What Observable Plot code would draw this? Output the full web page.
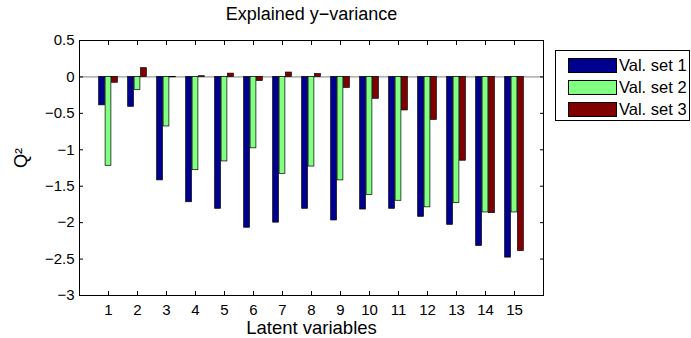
<!DOCTYPE html>
<html><head><meta charset="utf-8">
<script src="https://cdn.jsdelivr.net/npm/d3@7"></script>
<script src="https://cdn.jsdelivr.net/npm/@observablehq/plot@0.6"></script>
<style>
body{margin:0;background:#fff;font-family:"Liberation Sans",Arial,Helvetica,sans-serif;}
#wrap{position:relative;width:691px;height:338px;}
#legend{position:absolute;left:555px;top:50px;width:135px;height:71px;border:1px solid #000;box-sizing:border-box;background:#fff;}
.row{position:absolute;left:12px;height:16px;display:flex;align-items:center;font-size:16.5px;color:#000;white-space:nowrap;}
.sw{width:49px;height:15px;border:1px solid #000;box-sizing:border-box;margin-right:2px;}
</style>
</head><body>
<div id="wrap"></div>
<script>
const latent = [1,2,3,4,5,6,7,8,9,10,11,12,13,14,15];
const valSet1 = [-0.39,-0.41,-1.42,-1.72,-1.81,-2.07,-2.00,-1.81,-1.97,-1.82,-1.81,-1.92,-2.03,-2.32,-2.48];
const valSet2 = [-1.22,-0.18,-0.68,-1.28,-1.16,-0.98,-1.33,-1.23,-1.42,-1.62,-1.70,-1.79,-1.73,-1.86,-1.86];
const valSet3 = [-0.08,0.12,-0.005,0.01,0.045,-0.055,0.06,0.04,-0.15,-0.30,-0.46,-0.59,-1.15,-1.87,-2.39];
const seriesNames = ["Val. set 1","Val. set 2","Val. set 3"];
const seriesColors = ["#00008f","#80ff80","#800000"];
const yTicks = [0.5,0,-0.5,-1,-1.5,-2,-2.5,-3];
const titleText = "Explained y\u2212variance";
const xLabel = "Latent variables";
const yLabel = "Q\u00b2";

const allSeries = [valSet1, valSet2, valSet3];
const table = seriesNames.flatMap((s, i) => latent.map((lv, j) => ({lv, series: s, idx: i, v: allSeries[i][j]})));
const slot = 0.222, barW = 0.2;
const font = '"Liberation Sans",Arial,Helvetica,sans-serif';
const fmtY = d => (d < 0 ? "\u2212" : "") + String(Math.abs(d));

const chart = Plot.plot({
  width: 691, height: 338,
  marginLeft: 79, marginRight: 148, marginTop: 40, marginBottom: 43,
  style: {fontFamily: font, fontSize: "15px", background: "white", color: "black"},
  x: {domain: [0, 16]},
  y: {domain: [-3, 0.5]},
  color: {domain: seriesNames, range: seriesColors},
  marks: [
    Plot.ruleY([0], {stroke: "#808080"}),
    Plot.rect(table, {
      x1: d => d.lv + (d.idx - 1) * slot - barW / 2,
      x2: d => d.lv + (d.idx - 1) * slot + barW / 2,
      y1: 0, y2: "v", fill: "series", stroke: "black", strokeWidth: 0.7
    }),
    Plot.frame({stroke: "black"}),
    Plot.axisX({anchor: "bottom", ticks: latent, tickFormat: d => String(d), tickSize: -4, tickPadding: 12.5, label: null, fontSize: 15}),
    Plot.axisX({anchor: "top", ticks: latent, tickFormat: () => "", tickSize: -4, label: null}),
    Plot.axisY({anchor: "left", ticks: yTicks, tickFormat: fmtY, tickSize: -4, tickPadding: 9, label: null, fontSize: 15}),
    Plot.axisY({anchor: "right", ticks: yTicks, tickFormat: () => "", tickSize: -4, label: null}),
    Plot.text([titleText], {frameAnchor: "top", dy: -21, lineAnchor: "bottom", fontSize: 18}),
    Plot.text([xLabel], {frameAnchor: "bottom", dy: 38.5, lineAnchor: "bottom", fontSize: 18.5}),
    Plot.text([yLabel], {frameAnchor: "left", dx: -58, rotate: -90, fontSize: 18})
  ]
});
const wrap = document.getElementById("wrap");
wrap.appendChild(chart);

const legend = document.createElement("div");
legend.id = "legend";
seriesNames.forEach((s, i) => {
  const row = document.createElement("div");
  row.className = "row";
  row.style.top = (6 + i * 22) + "px";
  const sw = document.createElement("div");
  sw.className = "sw";
  sw.style.background = seriesColors[i];
  const t = document.createElement("span");
  t.textContent = s;
  row.appendChild(sw); row.appendChild(t);
  legend.appendChild(row);
});
wrap.appendChild(legend);
</script>
</body></html>
